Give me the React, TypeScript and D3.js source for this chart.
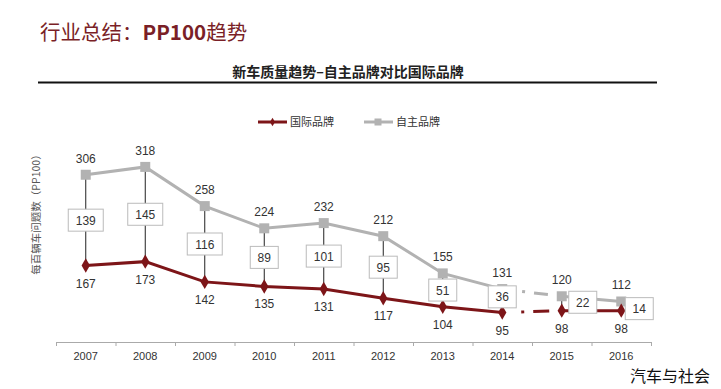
import React from "react";
import * as d3 from "d3";

const years = ["2007","2008","2009","2010","2011","2012","2013","2014","2015","2016"];
const intlValues = [167,173,142,135,131,117,104,95,98,98];
const domesticValues = [306,318,258,224,232,212,155,131,120,112];
const gapValues = [139,145,116,89,101,95,51,36,22,14];
const legendLabels = ["国际品牌","自主品牌"];

const W = 721, H = 389;
const RED = "#7d1518";
const GRAY = "#b2b2b2";
const FONT = "'Liberation Sans', Arial, 'Noto Sans CJK SC', sans-serif";

export default function App() {
  const x = d3.scaleBand<string>().domain(years).range([56, 651]);
  const cx = (y: string) => (x(y) as number) + x.bandwidth() / 2;
  const y = d3.scaleLinear().domain([50, 350]).range([342, 146]);

  const solidIdx = [0,1,2,3,4,5,6,7];
  const mk = (vals: number[], idx: number[]) =>
    d3.line<number>().x((i) => cx(years[i])).y((i) => y(vals[i]))(idx) as string;

  const diamond = d3.symbol().type(d3.symbolDiamond).size(60)() as string;

  return (
    <svg width={W} height={H} style={{ position: "absolute", left: 0, top: 0, background: "#fff" }} fontFamily={FONT}>
      <rect x={0} y={0} width={W} height={H} fill="#fff" />
      <text x={40} y={40} fontSize={20.5} fill="#7a1f27" fontFamily="'Noto Sans CJK SC', sans-serif">
        行业总结：<tspan fontWeight="bold">PP100</tspan>趋势
      </text>
      <text x={348} y={77} textAnchor="middle" fontSize={14} fontWeight="bold" fill="#222" fontFamily="'Noto Sans CJK SC', sans-serif">
        新车质量趋势–自主品牌对比国际品牌
      </text>
      <line x1={38} x2={657} y1={82.5} y2={82.5} stroke="#111" strokeWidth={2} />

      {/* legend */}
      <g>
        <line x1={258} x2={287} y1={122} y2={122} stroke={RED} strokeWidth={3} />
        <path d={diamond} transform="translate(272.5,122) scale(0.6)" fill={RED} />
        <text x={290} y={126} fontSize={11} fill="#333" fontFamily="'Noto Sans CJK SC', sans-serif">{legendLabels[0]}</text>
        <line x1={364} x2={393} y1={122} y2={122} stroke={GRAY} strokeWidth={3} />
        <rect x={374.5} y={118.5} width={7} height={7} fill={GRAY} />
        <text x={396} y={126} fontSize={11} fill="#333" fontFamily="'Noto Sans CJK SC', sans-serif">{legendLabels[1]}</text>
      </g>

      {/* y label */}
      <text transform="translate(40,212) rotate(-90)" textAnchor="middle" fontSize={10.5} fill="#555" fontFamily="'Noto Sans CJK SC', sans-serif">
        每百辆车问题数（PP100）
      </text>

      {/* x axis */}
      <line x1={56} x2={651} y1={342.5} y2={342.5} stroke="#aaa" strokeWidth={1} />
      {years.map((yr) => (
        <line key={"t" + yr} x1={(x(yr) as number) + 0.5} x2={(x(yr) as number) + 0.5} y1={342} y2={346} stroke="#aaa" />
      ))}
      <line x1={651.5} x2={651.5} y1={342} y2={346} stroke="#aaa" />
      {years.map((yr) => (
        <text key={"l" + yr} x={cx(yr)} y={360} textAnchor="middle" fontSize={11} fill="#333">{yr}</text>
      ))}

      {/* connecting lines */}
      {years.map((yr, i) => (
        <line key={"c" + yr} x1={cx(yr)} x2={cx(yr)} y1={y(domesticValues[i])} y2={y(intlValues[i])} stroke="#222" strokeWidth={1} />
      ))}

      {/* gray line */}
      <path d={mk(domesticValues, solidIdx)} fill="none" stroke={GRAY} strokeWidth={3} />
      <path d={mk(domesticValues, [7, 8])} fill="none" stroke={GRAY} strokeWidth={3} strokeDasharray="0 20 3 9 14 40" />
      <path d={mk(domesticValues, [8, 9])} fill="none" stroke={GRAY} strokeWidth={3} />
      {years.map((yr, i) => (
        <rect key={"s" + yr} x={cx(yr) - 5} y={y(domesticValues[i]) - 5} width={10} height={10} fill={GRAY} />
      ))}

      {/* red line */}
      <path d={mk(intlValues, solidIdx)} fill="none" stroke={RED} strokeWidth={3} />
      <path d={mk(intlValues, [7, 8])} fill="none" stroke={RED} strokeWidth={3} strokeDasharray="0 19 3 9 16 40" />
      <path d={mk(intlValues, [8, 9])} fill="none" stroke={RED} strokeWidth={3} />
      {years.map((yr, i) => (
        <path key={"d" + yr} d={diamond} transform={`translate(${cx(yr)},${y(intlValues[i])})`} fill={RED} />
      ))}

      {/* gap boxes */}
      {years.map((yr, i) => {
        const mid = (y(domesticValues[i]) + y(intlValues[i])) / 2;
        const label = String(gapValues[i]);
        const w = label.length >= 3 ? 35 : 28;
        const h = 22;
        let bx = cx(yr);
        let by = mid;
        if (i === 8) { bx = cx(yr) + 21; by = y(domesticValues[i]) + 6; }
        if (i === 9) { bx = cx(yr) + 18; by = y(intlValues[i]) - 2; }
        if (i === 7) { by = mid - 4; }
        return (
          <g key={"b" + yr}>
            <rect x={bx - w / 2} y={by - h / 2} width={w} height={h} fill="#fff" stroke="#bbb" strokeWidth={1} />
            <text x={bx} y={by + 4.5} textAnchor="middle" fontSize={12} fill="#333">{label}</text>
          </g>
        );
      })}

      {/* value labels */}
      {years.map((yr, i) => (
        <text key={"gv" + yr} x={cx(yr)} y={y(domesticValues[i]) - 12} textAnchor="middle" fontSize={12} fill="#333">{domesticValues[i]}</text>
      ))}
      {years.map((yr, i) => (
        <text key={"rv" + yr} x={cx(yr)} y={y(intlValues[i]) + 22} textAnchor="middle" fontSize={12} fill="#333">{intlValues[i]}</text>
      ))}

      <text x={710} y={382} textAnchor="end" fontSize={16} fill="#111" fontFamily="'Noto Sans CJK SC', sans-serif">汽车与社会</text>
    </svg>
  );
}
